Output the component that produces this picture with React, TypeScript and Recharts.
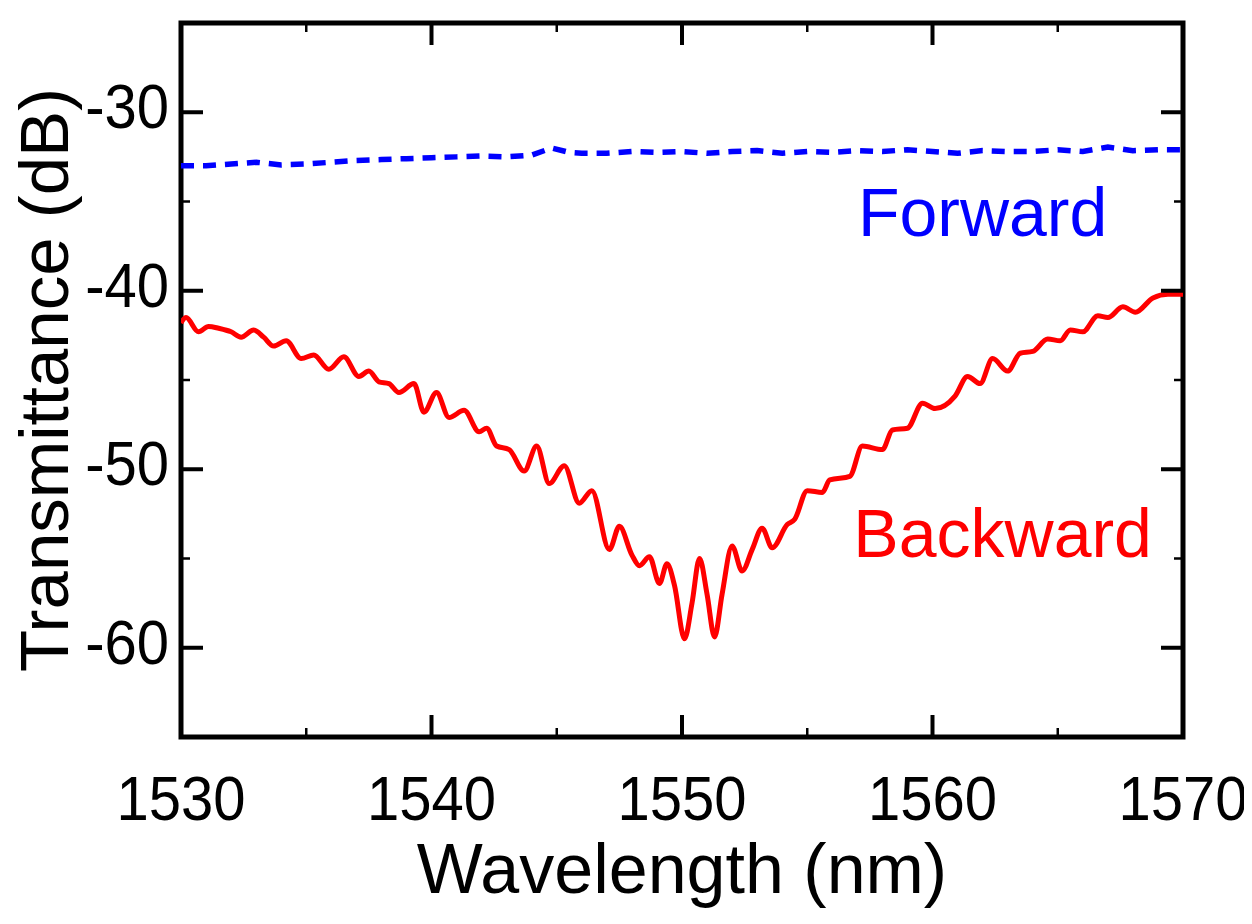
import React from "react";
import {
  LineChart,
  Line,
  XAxis,
  YAxis,
  ReferenceArea,
  ReferenceDot,
} from "recharts";

const FONT = "'Liberation Sans', Arial, Helvetica, sans-serif";

const xTicks = [1530, 1535, 1540, 1545, 1550, 1555, 1560, 1565, 1570];
const yTicks = [-65, -60, -55, -50, -45, -40, -35, -30, -25];
const xDomain = [1530, 1570];
const yDomain = [-65, -25];

const forwardX = [
  1530, 1531, 1532, 1533, 1534, 1535, 1536, 1537, 1538, 1539, 1540, 1541, 1542,
  1543, 1544, 1544.8, 1545.5, 1546, 1547, 1548, 1549, 1550, 1551, 1552, 1553,
  1554, 1555, 1556, 1557, 1558, 1559, 1560, 1561, 1562, 1563, 1564, 1565, 1566,
  1567, 1568, 1569, 1570,
];
const forwardY = [
  -33.0, -33.0, -32.9, -32.8, -32.95, -32.9, -32.8, -32.7, -32.65, -32.6, -32.55,
  -32.5, -32.45, -32.5, -32.4, -32.0, -32.25, -32.3, -32.3, -32.2, -32.25, -32.2,
  -32.3, -32.2, -32.15, -32.3, -32.2, -32.25, -32.15, -32.2, -32.1, -32.2, -32.3,
  -32.15, -32.2, -32.2, -32.1, -32.2, -31.95, -32.15, -32.1, -32.1,
];

const backwardX = [
  1530.0, 1530.2, 1530.7, 1531.1, 1531.5, 1532.0, 1532.4, 1532.9, 1533.3, 1533.7,
  1534.2, 1534.8, 1535.3, 1535.9, 1536.5, 1537.1, 1537.5, 1537.9, 1538.3, 1538.7,
  1539.3, 1539.7, 1540.2, 1540.7, 1541.3, 1541.9, 1542.2, 1542.6, 1543.1, 1543.7,
  1544.2, 1544.7, 1545.3, 1545.9, 1546.4, 1547.1, 1547.5, 1548.0, 1548.3, 1548.7,
  1549.1, 1549.4, 1549.7, 1550.1, 1550.4, 1550.7, 1551.0, 1551.3, 1551.6, 1552.0,
  1552.4, 1552.8, 1553.2, 1553.6, 1554.2, 1554.5, 1555.0, 1555.6, 1555.9, 1556.7,
  1557.2, 1558.0, 1558.4, 1559.0, 1559.6, 1560.1, 1560.9, 1561.4, 1561.9, 1562.4,
  1563.0, 1563.5, 1564.0, 1564.6, 1565.1, 1565.5, 1566.0, 1566.6, 1567.0, 1567.6,
  1568.1, 1568.8, 1569.4, 1570.0,
];
const backwardY = [
  -41.8, -41.5, -42.3, -42.0, -42.1, -42.3, -42.6, -42.2, -42.6, -43.1,
  -42.8, -43.8, -43.6, -44.4, -43.7, -44.8, -44.5, -45.1, -45.2, -45.7,
  -45.2, -46.8, -45.7, -47.1, -46.7, -47.9, -47.7, -48.7, -48.9, -50.1,
  -48.7, -50.8, -49.8, -51.9, -51.2, -54.5, -53.2, -54.8, -55.4, -54.9,
  -56.4, -55.3, -56.5, -59.5, -57.5, -55.0, -57.0, -59.4, -57.0, -54.3,
  -55.7, -54.5, -53.3, -54.4, -53.1, -52.8, -51.2, -51.3, -50.6, -50.4,
  -48.7, -48.9, -47.8, -47.7, -46.3, -46.6, -45.9, -44.8, -45.2, -43.8,
  -44.5, -43.5, -43.4, -42.7, -42.8, -42.2, -42.3, -41.4, -41.5, -40.9,
  -41.2, -40.4, -40.2, -40.2,
];

const forwardData = forwardX.map((x, i) => ({ x, y: forwardY[i] }));
const backwardData = backwardX.map((x, i) => ({ x, y: backwardY[i] }));

const MAJOR_LEN = 22;
const MINOR_LEN = 9;
const TICK_FONT = 58;
const TICK_SY = 1.08;

const BottomTick = (props: any) => {
  const { x, y, payload } = props;
  const major = Math.round(payload.value) % 10 === 0;
  return (
    <g>
      <line x1={x} x2={x} y1={y} y2={y - (major ? MAJOR_LEN : MINOR_LEN)} stroke="#000" strokeWidth={major ? 4 : 2.5} />
      {major && (
        <text transform={`translate(${x},${y + 83}) scale(1,${TICK_SY})`} x={0} y={0} textAnchor="middle" fontSize={TICK_FONT} fontFamily={FONT} fill="#000">
          {payload.value}
        </text>
      )}
    </g>
  );
};

const TopTick = (props: any) => {
  const { x, y, payload } = props;
  const major = Math.round(payload.value) % 10 === 0;
  return (
    <line x1={x} x2={x} y1={y} y2={y + (major ? MAJOR_LEN : MINOR_LEN)} stroke="#000" strokeWidth={major ? 4 : 2.5} />
  );
};

const LeftTick = (props: any) => {
  const { x, y, payload } = props;
  const v = payload.value;
  if (v === -65 || v === -25) return <g />;
  const major = Math.round(v) % 10 === 0;
  return (
    <g>
      <line x1={x} x2={x + (major ? MAJOR_LEN : MINOR_LEN)} y1={y} y2={y} stroke="#000" strokeWidth={major ? 4 : 2.5} />
      {major && (
        <text transform={`translate(${x - 12},${y + 16}) scale(1,${TICK_SY})`} x={0} y={0} textAnchor="end" fontSize={TICK_FONT} fontFamily={FONT} fill="#000">
          {v}
        </text>
      )}
    </g>
  );
};

const RightTick = (props: any) => {
  const { x, y, payload } = props;
  const v = payload.value;
  if (v === -65 || v === -25) return <g />;
  const major = Math.round(v) % 10 === 0;
  return (
    <line x1={x} x2={x - (major ? MAJOR_LEN : MINOR_LEN)} y1={y} y2={y} stroke="#000" strokeWidth={major ? 4 : 2.5} />
  );
};

const XTitle = (props: any) => {
  const vb = props.viewBox;
  return (
    <text x={vb.x + vb.width / 2} y={vb.y + 156} textAnchor="middle" fontSize={70} fontFamily={FONT} fill="#000">
      Wavelength (nm)
    </text>
  );
};

const YTitle = (props: any) => {
  const vb = props.viewBox;
  const cx = 60;
  const cy = vb.y + vb.height / 2;
  return (
    <text x={cx} y={cy} transform={`rotate(-90, ${cx}, ${cy})`} textAnchor="middle" fontSize={69} fontFamily={FONT} fill="#000">
      Transmittance (dB)
    </text>
  );
};

const makeNote = (text: string, color: string) => (props: any) => {
  const vb = props.viewBox;
  return (
    <text x={vb.x + vb.width / 2} y={vb.y + vb.height / 2} textAnchor="middle" fontSize={68} fontFamily={FONT} fill={color}>
      {text}
    </text>
  );
};

export default function App() {
  return (
    <div style={{ width: 1244, height: 916 }}>
      <LineChart width={1244} height={916} margin={{ top: 14, right: 68, bottom: 0, left: 0 }}>
        <XAxis
          xAxisId={0}
          type="number"
          dataKey="x"
          domain={xDomain}
          ticks={xTicks}
          interval={0}
          allowDataOverflow
          height={187}
          tickSize={0}
          tickMargin={0}
          tickLine={false}
          axisLine={false}
          tick={<BottomTick />}
          label={{ content: <XTitle /> }}
        />
        <XAxis
          xAxisId="top"
          orientation="top"
          type="number"
          dataKey="x"
          domain={xDomain}
          ticks={xTicks}
          interval={0}
          allowDataOverflow
          height={1}
          tickSize={0}
          tickMargin={0}
          tickLine={false}
          axisLine={false}
          tick={<TopTick />}
        />
        <YAxis
          yAxisId={0}
          type="number"
          domain={yDomain}
          ticks={yTicks}
          interval={0}
          allowDataOverflow
          width={173}
          tickSize={0}
          tickMargin={0}
          tickLine={false}
          axisLine={false}
          tick={<LeftTick />}
          label={{ content: <YTitle /> }}
        />
        <YAxis
          yAxisId="right"
          orientation="right"
          type="number"
          domain={yDomain}
          ticks={yTicks}
          interval={0}
          allowDataOverflow
          width={1}
          tickSize={0}
          tickMargin={0}
          tickLine={false}
          axisLine={false}
          tick={<RightTick />}
        />
        <Line
          data={forwardData}
          dataKey="y"
          type="linear"
          stroke="#0000ff"
          strokeWidth={5.5}
          strokeDasharray="13 9"
          dot={false}
          activeDot={false}
          isAnimationActive={false}
        />
        <Line
          data={backwardData}
          dataKey="y"
          type="monotone"
          stroke="#ff0000"
          strokeWidth={5}
          dot={false}
          activeDot={false}
          isAnimationActive={false}
        />
        <ReferenceArea
          x1={1530}
          x2={1570}
          y1={-65}
          y2={-25}
          fill="none"
          fillOpacity={0}
          stroke="#000"
          strokeWidth={5}
          ifOverflow="visible"
        />
        <ReferenceDot x={1562.0} y={-36.94} r={0} fill="none" stroke="none" ifOverflow="visible" label={{ content: makeNote("Forward", "#0000ff") }} />
        <ReferenceDot x={1562.8} y={-54.9} r={0} fill="none" stroke="none" ifOverflow="visible" label={{ content: makeNote("Backward", "#ff0000") }} />
      </LineChart>
    </div>
  );
}
